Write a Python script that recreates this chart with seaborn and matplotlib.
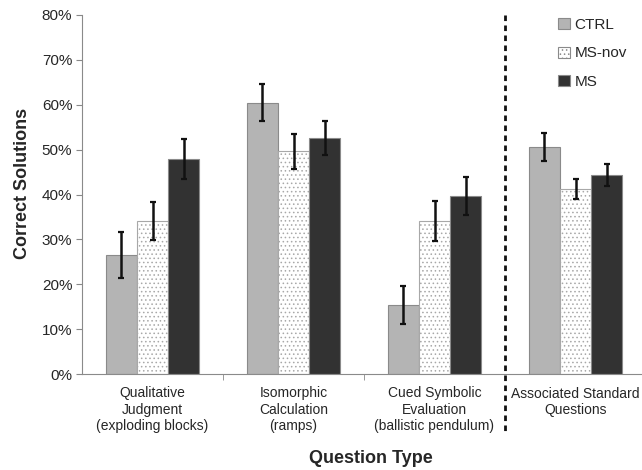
import pandas as pd
import numpy as np
import matplotlib.pyplot as plt
import seaborn as sns
from matplotlib.patches import Patch
from matplotlib.ticker import PercentFormatter

# question types (x categories) and groups (hue)
categories = ['Qualitative\nJudgment\n(exploding blocks)',
              'Isomorphic\nCalculation\n(ramps)',
              'Cued Symbolic\nEvaluation\n(ballistic pendulum)',
              'Associated Standard\nQuestions']
groups = ['CTRL', 'MS-nov', 'MS']

# fraction of correct solutions
ctrl = [0.265, 0.605, 0.153, 0.506]
ms_nov = [0.341, 0.496, 0.341, 0.412]
ms = [0.479, 0.526, 0.397, 0.443]

# error bar half-lengths
ctrl_err = [0.052, 0.042, 0.042, 0.031]
ms_nov_err = [0.043, 0.039, 0.044, 0.023]
ms_err = [0.044, 0.037, 0.042, 0.024]

df = pd.DataFrame({
    'question': categories * 3,
    'group': ['CTRL'] * 4 + ['MS-nov'] * 4 + ['MS'] * 4,
    'score': ctrl + ms_nov + ms,
    'err': ctrl_err + ms_nov_err + ms_err,
})

sns.set_style('white')
plt.rcParams['font.family'] = ['Liberation Sans', 'DejaVu Sans']
plt.rcParams['hatch.linewidth'] = 0.6

fig = plt.figure(figsize=(6.42, 4.70), dpi=100)
ax = fig.add_axes([82 / 642, 1 - 374 / 470, 564 / 642, 359 / 470])

colors = {'CTRL': '#b4b4b4', 'MS-nov': '#ffffff', 'MS': '#323232'}
sns.barplot(data=df, x='question', y='score', hue='group', hue_order=groups,
            palette=colors, width=0.66, errorbar=None, ax=ax,
            edgecolor='#8a8a8a', linewidth=0.8, legend=False)

# hatch the MS-nov bars with dots and put on the error bars
for container, g in zip(ax.containers, groups):
    sub = df[df['group'] == g]
    xs = [p.get_x() + p.get_width() / 2 for p in container.patches]
    for p in container.patches:
        if g == 'MS-nov':
            p.set_hatch('....')
            p.set_edgecolor('#a8a8a8')
    ax.errorbar(xs, sub['score'].values, yerr=sub['err'].values, fmt='none',
                ecolor='#111111', elinewidth=1.8, capsize=2.2, capthick=1.6, zorder=5)

ax.set_ylim(0, 0.8)
ax.set_xlim(-0.5, 3.5)
ax.set_yticks(np.arange(0, 0.81, 0.1))
ax.yaxis.set_major_formatter(PercentFormatter(1.0, decimals=0))
ax.tick_params(axis='y', labelsize=11, length=4, color='#888888', direction='out', left=True, pad=3)
ax.tick_params(axis='x', which='major', length=0, labelsize=10, pad=9)
ax.set_xticks([0.5, 1.5], minor=True)
ax.tick_params(axis='x', which='minor', length=4, color='#888888', direction='out', bottom=True)

for side in ['top', 'right']:
    ax.spines[side].set_visible(False)
for side in ['left', 'bottom']:
    ax.spines[side].set_color('#8a8a8a')
    ax.spines[side].set_linewidth(0.8)

# dashed separator before the standard questions
ax.plot([2.5, 2.5], [0.8, -0.135], color='#111111', linestyle=(0, (2.0, 1.6)),
        linewidth=2, clip_on=False, zorder=6)

ax.set_ylabel('Correct Solutions', fontsize=13, fontweight='bold', labelpad=8)
ax.set_xlabel('Question Type', fontsize=13, fontweight='bold', labelpad=12)
ax.xaxis.label.set_x(0.512)
ax.yaxis.label.set_y(0.53)

handles = [Patch(facecolor=colors[g], edgecolor='#8a8a8a', linewidth=0.8,
                 hatch='....' if g == 'MS-nov' else None) for g in groups]
leg = ax.legend(handles, groups, loc='upper left', bbox_to_anchor=(0.82, 1.03),
                frameon=False, fontsize=11, handlelength=0.75, handleheight=0.75,
                handletextpad=0.3, labelspacing=0.95)

plt.savefig('out.png', dpi=100)
